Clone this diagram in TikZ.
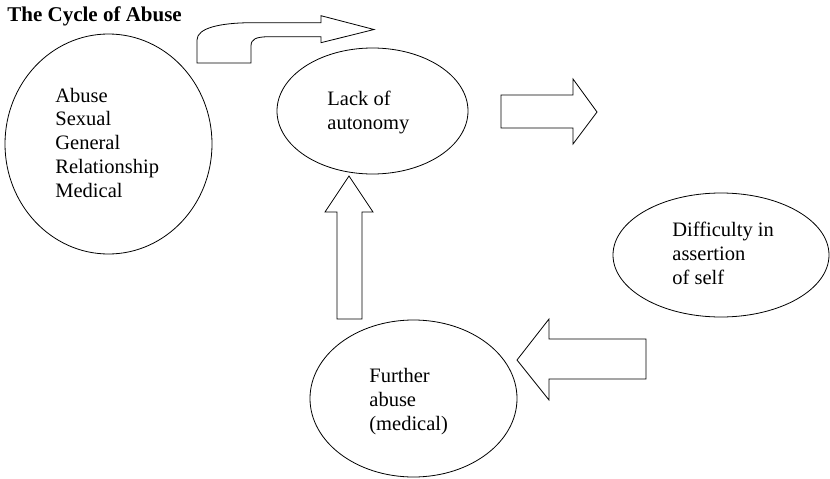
\documentclass[tikz,border=0pt]{standalone}
\usepackage{fontspec}
\setmainfont{Liberation Serif}
\usepackage{tikz}
\usetikzlibrary{shapes.geometric}

\begin{document}
\begin{tikzpicture}
  [x=1pt,y=-1pt,line width=.8pt,
   bubble/.style={draw,ellipse,inner sep=0pt},
   words/.style={anchor=base west,inner sep=0pt,align=left,font=\fontsize{20.5}{23.7}\selectfont},
   blockarrow/.style={draw,line join=miter}] % px coordinates, y grows downwards; words sit on their last baseline
  \useasboundingbox (0,0) rectangle (830,479);

  \node (title) [anchor=base west,inner sep=0pt,font=\bfseries\fontsize{21}{24}\selectfont] at (7,21) {The Cycle of Abuse};

  % the four bubbles
  \node (abuse)     [bubble,minimum width=207pt,minimum height=220pt] at (108.5,144) {};
  \node (autonomy)  [bubble,minimum width=191pt,minimum height=126pt] at (372.5,111) {};
  \node (assertion) [bubble,minimum width=216pt,minimum height=124pt] at (721,255)   {};
  \node (further)   [bubble,minimum width=207pt,minimum height=157pt] at (413.5,398.5) {};

  % texts, set flush left inside the bubbles
  \node (abusetxt)     [words] at (55,197)  {Abuse\\Sexual\\General\\Relationship\\Medical};
  \node (autonomytxt)  [words] at (327,129) {Lack of\\autonomy};
  \node (assertiontxt) [words] at (672,284) {Difficulty in\\assertion\\of self};
  \node (furthertxt)   [words] at (369,430) {Further\\abuse\\(medical)};

  % block arrows
  \draw [blockarrow] (197,63) -- (197,40) .. controls (197,28) and (220,23) .. (250,22.7)
    -- (321,22.7) -- (321,15.7) -- (374,29.5) -- (321,42.7) -- (321,36.7) -- (268,36.7)
    .. controls (256,37) and (251,39) .. (251,46) -- (251,63) -- cycle;
  \draw [blockarrow] (501,95) -- (573,95) -- (573,79) -- (597,112) -- (573,144) -- (573,128) -- (501,128) -- cycle;
  \draw [blockarrow] (646,339) -- (549,339) -- (549,319) -- (517,360) -- (549,400) -- (549,379) -- (646,379) -- cycle;
  \draw [blockarrow] (337,319) -- (337,212) -- (325,212) -- (349,176) -- (373,212) -- (362,212) -- (362,319) -- cycle;

\end{tikzpicture}
\end{document}
